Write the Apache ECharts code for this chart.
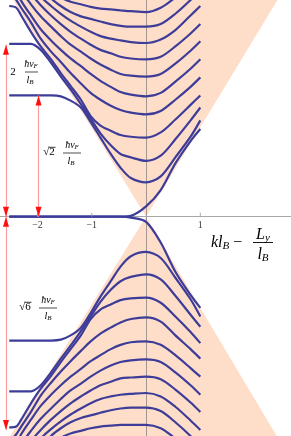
<!DOCTYPE html>
<html><head><meta charset="utf-8">
<script src="https://cdn.jsdelivr.net/npm/echarts@6/dist/echarts.min.js"></script>
<style>html,body{margin:0;padding:0;background:#fff}#c{width:291px;height:436px}</style>
</head><body><div id="c"></div>
<script>
// x positions (k l_B - L_y/l_B) at which each curve was read
const xs = [-2.52,-2.39,-2.30,-2.12,-1.94,-1.75,-1.57,-1.39,-1.20,-1.02,-0.84,-0.65,-0.47,-0.28,0,0.27,0.54,0.82,1.0];

// upper branches (energy in units of hbar v_F / l_B)
const c0 = [0,0,0,0,0,0,0,0,0,0,0,0,0,0.01,0.12,0.31,0.62,0.88,1.02];
const c1 = [1.41,1.41,1.41,1.41,1.41,1.41,1.40,1.35,1.27,1.10,0.92,0.73,0.57,0.45,0.40,0.47,0.69,0.93,1.12];
const c2 = [2.01,2.01,2.01,2.01,1.94,1.79,1.63,1.48,1.31,1.14,0.97,0.83,0.73,0.69,0.65,0.71,0.90,1.12,1.27];
const c3 = [2.45,2.43,2.34,2.15,1.98,1.83,1.67,1.52,1.36,1.17,1.06,1.00,0.95,0.93,0.92,0.98,1.13,1.30,1.41];
const c4 = [2.62,2.52,2.43,2.26,2.07,1.92,1.80,1.67,1.55,1.44,1.36,1.29,1.24,1.21,1.19,1.23,1.36,1.51,1.62];
const c5 = [2.76,2.63,2.51,2.34,2.18,2.05,1.94,1.84,1.75,1.66,1.58,1.51,1.45,1.42,1.40,1.44,1.57,1.72,1.83];
const c6 = [2.90,2.76,2.63,2.47,2.33,2.21,2.10,2.00,1.92,1.84,1.77,1.71,1.66,1.64,1.63,1.66,1.78,1.93,2.04];
const c7 = [3.01,2.87,2.76,2.59,2.46,2.34,2.24,2.15,2.07,2.00,1.94,1.90,1.86,1.84,1.83,1.86,1.98,2.13,2.24];
const c8 = [3.16,3.01,2.90,2.72,2.56,2.45,2.36,2.28,2.21,2.15,2.10,2.07,2.05,2.03,2.02,2.06,2.17,2.34,2.45];
const c9 = [3.31,3.16,3.05,2.86,2.69,2.54,2.45,2.38,2.33,2.30,2.27,2.24,2.22,2.21,2.21,2.24,2.36,2.52,2.64];
const c10 = [3.45,3.30,3.19,3.00,2.81,2.63,2.55,2.50,2.47,2.44,2.42,2.41,2.40,2.39,2.38,2.43,2.55,2.71,2.83];

// lower branches
const d0 = [0,0,0,0,0,0,0,0,0,0,0,0,0,-0.01,-0.06,-0.30,-0.64,-0.91,-1.06];
const d1 = [-1.44,-1.44,-1.44,-1.44,-1.44,-1.44,-1.43,-1.38,-1.29,-1.12,-0.93,-0.75,-0.58,-0.46,-0.41,-0.48,-0.71,-0.96,-1.16];
const d2 = [-2.03,-2.03,-2.03,-2.03,-1.96,-1.81,-1.65,-1.50,-1.33,-1.16,-0.99,-0.85,-0.75,-0.70,-0.67,-0.73,-0.92,-1.14,-1.28];
const d3 = [-2.45,-2.44,-2.36,-2.17,-2.00,-1.85,-1.69,-1.54,-1.38,-1.19,-1.08,-1.02,-0.97,-0.95,-0.94,-1.00,-1.16,-1.34,-1.47];
const d4 = [-2.62,-2.53,-2.44,-2.27,-2.08,-1.93,-1.80,-1.68,-1.56,-1.45,-1.36,-1.29,-1.23,-1.19,-1.17,-1.22,-1.38,-1.54,-1.65];
const d5 = [-2.78,-2.65,-2.53,-2.36,-2.20,-2.07,-1.96,-1.86,-1.77,-1.68,-1.61,-1.54,-1.49,-1.46,-1.45,-1.49,-1.61,-1.76,-1.86];
const d6 = [-2.92,-2.78,-2.65,-2.49,-2.35,-2.23,-2.12,-2.02,-1.94,-1.86,-1.79,-1.73,-1.69,-1.67,-1.66,-1.69,-1.81,-1.96,-2.07];
const d7 = [-3.03,-2.89,-2.78,-2.61,-2.48,-2.36,-2.26,-2.17,-2.09,-2.02,-1.96,-1.92,-1.88,-1.87,-1.86,-1.89,-2.01,-2.16,-2.27];
const d8 = [-3.18,-3.03,-2.92,-2.74,-2.58,-2.47,-2.38,-2.30,-2.23,-2.17,-2.12,-2.09,-2.07,-2.06,-2.05,-2.09,-2.21,-2.37,-2.48];
const d9 = [-3.32,-3.17,-3.06,-2.87,-2.70,-2.55,-2.46,-2.39,-2.34,-2.31,-2.28,-2.25,-2.23,-2.22,-2.22,-2.26,-2.39,-2.55,-2.67];
const d10 = [-3.47,-3.32,-3.21,-3.02,-2.83,-2.65,-2.57,-2.52,-2.49,-2.46,-2.44,-2.43,-2.42,-2.42,-2.42,-2.46,-2.58,-2.74,-2.85];

// shaded cone boundary
const coneX = [-2.7, 0, 2.7];
const coneUpper = [2.78, 0, 2.81];
const coneLower = [-2.75, 0, -2.86];

// axis ticks (drawn on the E = 0 line)
const tickValues = [-2, -1, 1];
const tickLabels = ['\u22122', '\u22121', '1'];

// level arrows: [x, from, to]
const arrows = [[-2.58, 2.0, 0], [-1.98, 1.41, 0], [-2.58, 0, -2.48]];

const upper = [c0,c1,c2,c3,c4,c5,c6,c7,c8,c9,c10];
const lower = [d0,d1,d2,d3,d4,d5,d6,d7,d8,d9,d10];

const BLUE = '#3d3d99';
const PEACH = '#ffdec9';
const AXIS = '#a8a8a8';
const SERIF = '"Liberation Serif", "DejaVu Serif", serif';

const curveSeries = upper.concat(lower).map(arr => ({
  type: 'line', data: xs.map((x, j) => [x, arr[j]]),
  showSymbol: false, smooth: 0.3, clip: true, silent: true, z: 3,
  lineStyle: { color: BLUE, width: 2.2 }
}));

const markLines = [], markPoints = [];
arrows.forEach(a => {
  markLines.push([{ coord: [a[0], a[1]] }, { coord: [a[0], a[2]] }]);
  const up = a[1] > a[2];
  markPoints.push({ coord: [a[0], a[1]], symbolRotate: up ? 0 : 180, symbolOffset: [0, up ? 5 : -5] });
  markPoints.push({ coord: [a[0], a[2]], symbolRotate: up ? 180 : 0, symbolOffset: [0, up ? -5 : 5] });
});

const coneSeries = [
  { type: 'line', data: coneX.map((x, i) => [x, coneUpper[i]]), showSymbol: false, silent: true, z: 1,
    lineStyle: { width: 0 }, areaStyle: { color: PEACH, opacity: 1, origin: 'end' },
    markLine: { silent: true, symbol: 'none', label: { show: false }, lineStyle: { color: '#ff9c9c', width: 1.2, type: 'solid' }, data: markLines, z: 5 },
    markPoint: { silent: true, symbol: 'triangle', symbolSize: [6, 10], itemStyle: { color: '#ff1010' }, label: { show: false }, data: markPoints, z: 6 }
  },
  { type: 'line', data: coneX.map((x, i) => [x, coneLower[i]]), showSymbol: false, silent: true, z: 1,
    lineStyle: { width: 0 }, areaStyle: { color: PEACH, opacity: 1, origin: 'start' } }
];

// tick marks and tick labels sitting on the E = 0 axis line
const tickSeries = {
  type: 'scatter', data: tickValues.map(v => [v, 0]), silent: true, z: 4,
  symbol: 'rect', symbolSize: [1, 4], symbolOffset: [0, -2],
  itemStyle: { color: '#999' },
  label: { show: true, position: 'bottom', distance: 4, formatter: p => tickLabels[p.dataIndex],
    fontFamily: SERIF, fontSize: 10, color: '#000' }
};

const rich = {
  i: { fontFamily: SERIF, fontStyle: 'italic', fontSize: 10, fill: '#000' },
  s: { fontFamily: SERIF, fontStyle: 'italic', fontSize: 7, fill: '#000', padding: [4, 0, 0, 0] },
  r: { fontFamily: SERIF, fontSize: 11, fill: '#000' }
};
const richBig = {
  i: { fontFamily: SERIF, fontStyle: 'italic', fontSize: 16, fill: '#000' },
  s: { fontFamily: SERIF, fontStyle: 'italic', fontSize: 11, fill: '#000', padding: [6, 0, 0, 0] },
  n: { fontFamily: SERIF, fontSize: 16, fill: '#000' }
};
function txt(x, y, text, r, align) {
  return { type: 'text', x: x, y: y, z: 10, silent: true,
    style: { text: text, rich: r, align: align || 'center', verticalAlign: 'middle' } };
}
function bar(x1, x2, y, w) {
  return { type: 'line', z: 10, silent: true, shape: { x1: x1, y1: y, x2: x2, y2: y }, style: { stroke: '#000', lineWidth: w || 0.7 } };
}
const graphics = [
  txt(13, 72, '{r|2}', rich), txt(31, 64, '{i|ħv}{s|F}', rich), bar(25, 38, 72), txt(30, 80, '{i|l}{s|B}', rich),
  txt(49, 152, '{r|√2}', rich), bar(49, 55.5, 147.3, 0.8), txt(72, 145, '{i|ħv}{s|F}', rich), bar(63, 81, 153), txt(71, 161, '{i|l}{s|B}', rich),
  txt(25, 307, '{r|√6}', rich), bar(25, 31.5, 302.3, 0.8), txt(48, 300, '{i|ħv}{s|F}', rich), bar(39, 57, 308), txt(48, 316, '{i|l}{s|B}', rich),
  txt(211, 243, '{i|kl}{s|B}{n| \u2212 }', richBig, 'left'),
  txt(263, 235, '{i|L}{s|y}', richBig), bar(253, 273, 242.5, 0.9), txt(263, 255, '{i|l}{s|B}', richBig)
];

const chart = echarts.init(document.getElementById('c'), null, { renderer: 'canvas' });
chart.setOption({
  animation: false,
  backgroundColor: '#fff',
  grid: { left: 0, right: 0, top: 0, bottom: 0, containLabel: false, outerBoundsMode: 'none' },
  xAxis: {
    type: 'value', min: -2.69, max: 2.67, z: 2,
    axisLine: { show: true, onZero: true, lineStyle: { color: AXIS, width: 1 } },
    axisTick: { show: false }, axisLabel: { show: false }, splitLine: { show: false }
  },
  yAxis: {
    type: 'value', min: -2.55, max: 2.52, z: 2,
    axisLine: { show: true, onZero: true, lineStyle: { color: '#a09890', width: 1 } },
    axisTick: { show: false }, axisLabel: { show: false }, splitLine: { show: false }
  },
  series: coneSeries.concat(curveSeries, [tickSeries]),
  graphic: graphics
});
</script></body></html>
